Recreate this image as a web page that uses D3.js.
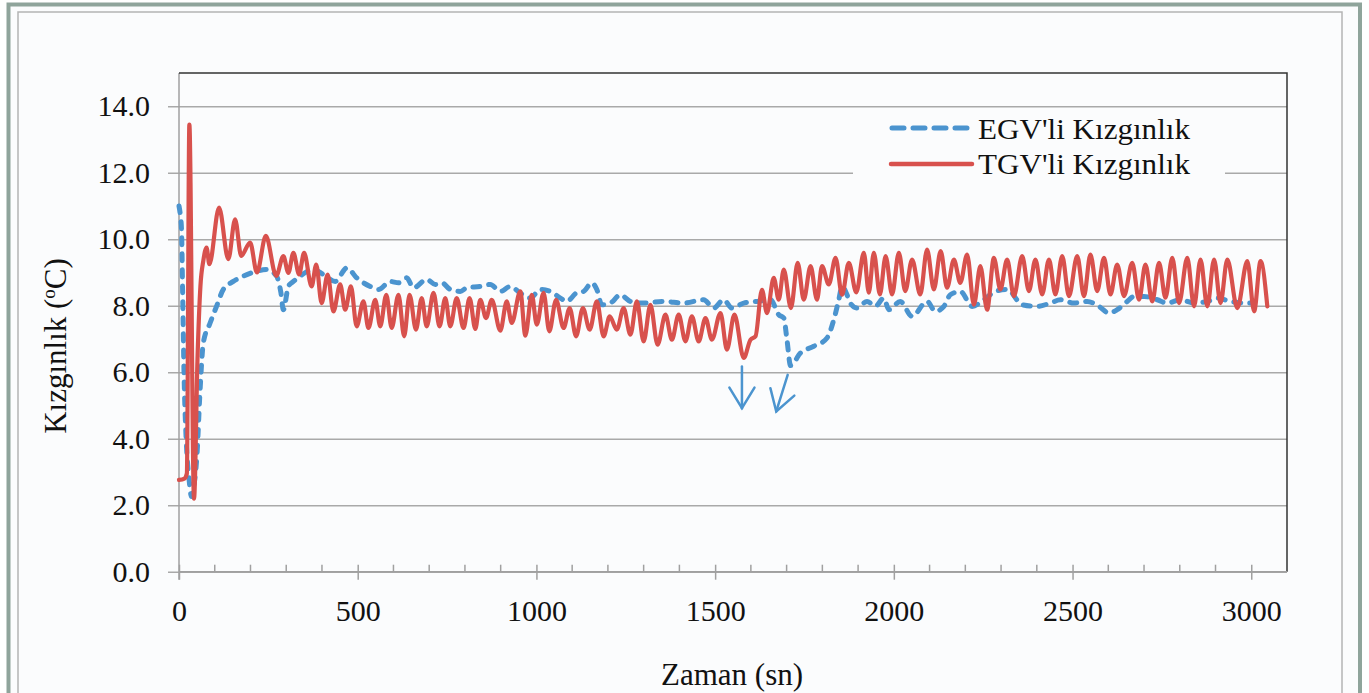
<!DOCTYPE html>
<html><head><meta charset="utf-8">
<script src="https://cdn.jsdelivr.net/npm/d3@7"></script>
<style>html,body{margin:0;padding:0;background:#fff;overflow:hidden}</style>
</head><body>
<svg id="c" width="1369" height="693"></svg>
<script>
// ---- data (time in s, superheat in °C) ----
const tgvTime = [0,15,22,29,42,52,60,68,77,85,112,138,157,174,199,218,243,272,292,306,320,336,350,371,384,399,416,432,451,465,481,497,516,530,549,563,580,595,614,630,645,663,679,693,712,729,745,759,777,796,813,829,843,859,875,899,917,931,955,969,987,1001,1020,1036,1055,1076,1093,1111,1130,1149,1169,1188,1205,1225,1244,1263,1281,1300,1319,1339,1361,1379,1398,1417,1435,1454,1473,1491,1515,1533,1554,1580,1599,1613,1631,1645,1664,1678,1692,1712,1731,1748,1767,1785,1799,1818,1837,1855,1874,1895,1916,1930,1944,1961,1977,1995,2014,2032,2051,2074,2093,2112,2131,2149,2168,2186,2205,2224,2242,2261,2280,2298,2317,2336,2359,2378,2396,2415,2434,2452,2471,2490,2513,2532,2550,2569,2588,2606,2625,2644,2667,2686,2704,2723,2742,2760,2779,2798,2821,2840,2858,2877,2896,2914,2933,2961,2989,3008,3026,3045];
const tgvValue = [2.76,2.8,2.95,13.45,2.2,6.5,8.6,9.35,9.75,9.25,10.95,9.4,10.6,9.5,9.9,9.0,10.1,8.9,9.49,8.99,9.59,8.94,9.59,8.58,9.24,8.08,8.94,7.83,8.64,7.88,8.58,7.38,8.13,7.33,8.18,7.38,8.33,7.33,8.33,7.08,8.33,7.28,8.23,7.38,8.39,7.38,8.23,7.38,8.23,7.33,8.23,7.3,8.18,7.63,8.18,7.25,8.13,7.48,8.43,7.1,8.33,7.43,8.39,7.23,8.18,7.33,7.93,7.08,7.93,7.28,8.13,7.08,7.68,7.28,7.93,7.13,8.13,6.93,8.03,6.83,7.73,6.98,7.73,6.93,7.68,6.93,7.63,6.98,7.78,6.68,7.73,6.43,6.98,7.08,8.48,7.78,8.84,8.18,9.09,7.93,9.29,8.18,9.19,8.18,9.19,8.64,9.44,8.33,9.29,8.4,9.59,8.39,9.59,8.34,9.49,8.34,9.59,8.44,9.39,8.34,9.69,8.49,9.64,8.54,9.39,8.69,9.54,8.03,9.19,7.88,9.44,8.49,9.39,8.29,9.49,8.44,9.39,8.34,9.39,8.34,9.49,8.29,9.49,8.29,9.54,8.44,9.44,8.34,9.24,8.29,9.29,8.18,9.24,8.13,9.29,8.24,9.44,8.08,9.44,7.98,9.39,7.98,9.39,8.08,9.39,7.93,9.34,7.83,9.34,7.98];

const egvTime = [0,4,7,10,14,20,28,35,42,50,59,68,87,105,124,152,180,218,246,273,285,292,306,320,340,376,404,437,470,497,535,558,591,614,637,656,693,717,735,759,787,805,843,871,899,927,955,983,1011,1039,1067,1085,1113,1132,1155,1169,1183,1207,1235,1263,1300,1356,1412,1468,1496,1524,1547,1580,1617,1655,1678,1692,1701,1711,1739,1776,1813,1832,1846,1855,1869,1878,1897,1925,1948,1972,1986,2018,2051,2093,2116,2140,2158,2186,2219,2252,2284,2317,2359,2401,2438,2466,2504,2541,2574,2602,2625,2653,2672,2700,2737,2765,2802,2840,2877,2905,2942,2980,2999];
const egvValue = [11.0,10.7,10.3,8.5,6,4,2.8,2.26,2.6,3.46,5.47,6.88,7.48,7.98,8.49,8.73,8.89,9.04,9.09,8.89,8.4,7.88,8.58,8.73,8.9,9.09,8.94,8.73,9.14,8.84,8.58,8.49,8.73,8.69,8.84,8.54,8.79,8.64,8.69,8.49,8.43,8.54,8.58,8.64,8.43,8.58,8.38,8.23,8.49,8.43,8.23,8.13,8.39,8.43,8.69,8.49,8.03,8.08,8.33,8.13,8.08,8.13,8.08,8.18,7.93,8.18,7.93,8.08,8.13,8.18,7.73,7.63,6.98,6.2,6.58,6.78,7.03,7.58,8.18,8.58,8.33,8.08,7.93,8.13,7.98,8.23,7.88,8.13,7.68,8.13,7.83,7.98,8.33,8.43,7.98,8.18,8.43,8.49,8.03,7.98,8.08,8.18,8.08,8.13,7.98,7.78,7.88,8.13,8.28,8.28,8.18,8.08,8.18,8.08,8.13,8.23,8.13,8.08,8.08];

const xTicks = [0,500,1000,1500,2000,2500,3000];
const yTicks = [0,2,4,6,8,10,12,14];
const seriesNames = ["EGV'li Kızgınlık","TGV'li Kızgınlık"];
// annotation arrows [t0,v0,t1,v1]
const arrows = [[1575,6.17,1575,4.92],[1703,5.92,1671,4.82]];

// ---- drawing ----
const svg = d3.select("#c");
const BLUE = "#4b94cf", RED = "#d8514d";
const FONT = "'Liberation Serif','Times New Roman',serif";

// frame
svg.append("rect").attr("x",0).attr("y",0).attr("width",1369).attr("height",693).attr("fill","#fff");
svg.append("rect").attr("x",8.5).attr("y",4.5).attr("width",1351.5).attr("height",700)
  .attr("fill","#fbfcfd").attr("stroke","#8fa49b").attr("stroke-width",4);
svg.append("rect").attr("x",18).attr("y",12).attr("width",1324).attr("height",700)
  .attr("fill","none").attr("stroke","#b4b4b4").attr("stroke-width",1.5);

const L=179, R=1287, T=73, B=571.7;
const x = d3.scaleLinear().domain([0,3100]).range([L,R]);
const y = d3.scaleLinear().domain([0,15]).range([B,T]);

// gridlines + y ticks
const yAxis = d3.axisLeft(y).tickValues(yTicks).tickSize(-(R-L)).tickSizeOuter(0)
  .tickFormat(d3.format(".1f")).tickPadding(0);
const gy = svg.append("g").attr("transform",`translate(${L},0)`).call(yAxis);
gy.select(".domain").remove();
gy.selectAll(".tick line").attr("stroke","#a9a9a9").attr("stroke-width",1.5).attr("x1",-11);
gy.selectAll(".tick text").attr("x",-29).attr("font-family",FONT).attr("font-size",30).attr("fill","#111");

// plot border: left gray, top/right dark
svg.append("line").attr("x1",L).attr("x2",L).attr("y1",T).attr("y2",B+8).attr("stroke","#a0a0a0").attr("stroke-width",1.5);
svg.append("path").attr("d",`M${L},${T}H${R}V${B}`).attr("fill","none").attr("stroke","#333").attr("stroke-width",1.5);

// x axis
const xAxis = d3.axisBottom(x).tickValues(xTicks).tickSize(8).tickSizeOuter(0).tickFormat(d3.format("d")).tickPadding(20);
const gx = svg.append("g").attr("transform",`translate(0,${B})`).call(xAxis);
gx.select(".domain").attr("stroke","#a0a0a0").attr("stroke-width",1.5).attr("d",`M${L},0H${R}`);
gx.selectAll(".tick line").attr("stroke","#a0a0a0").attr("stroke-width",1.5).attr("y1",-7);
gx.selectAll(".tick text").attr("font-family",FONT).attr("font-size",30).attr("fill","#111");
// minor ticks every 100
const minor = d3.range(100,3100,100).filter(v=>v%500!==0);
svg.append("g").selectAll("line").data(minor).join("line")
  .attr("x1",d=>x(d)).attr("x2",d=>x(d)).attr("y1",B-7).attr("y2",B)
  .attr("stroke","#a0a0a0").attr("stroke-width",1.5);

// legend background (hides gridline)
svg.append("rect").attr("x",853).attr("y",112).attr("width",372).attr("height",72).attr("fill","#fbfcfd");

// lines
const egv = egvTime.map((t,i)=>[t,egvValue[i]]);
const tgv = tgvTime.map((t,i)=>[t,tgvValue[i]]);
const line = d3.line().x(d=>x(d[0])).y(d=>y(d[1])).curve(d3.curveMonotoneX);
svg.append("path").datum(egv).attr("d",line).attr("fill","none").attr("stroke",BLUE)
  .attr("stroke-width",5).attr("stroke-dasharray","7,9").attr("stroke-linecap","round").attr("stroke-linejoin","round");
svg.append("path").datum(tgv).attr("d",line).attr("fill","none").attr("stroke",RED)
  .attr("stroke-width",4.2).attr("stroke-linejoin","round").attr("stroke-linecap","round");

// arrows
const ag = svg.append("g").attr("stroke",BLUE).attr("stroke-width",2.5).attr("fill","none").attr("stroke-linecap","round");
arrows.forEach(a=>{
  const x0=x(a[0]),y0=y(a[1]),x1=x(a[2]),y1=y(a[3]);
  const ang=Math.atan2(y1-y0,x1-x0), h=24, w=0.55;
  ag.append("line").attr("x1",x0).attr("y1",y0).attr("x2",x1).attr("y2",y1);
  ag.append("path").attr("d",`M${x1-h*Math.cos(ang-w)},${y1-h*Math.sin(ang-w)}L${x1},${y1}L${x1-h*Math.cos(ang+w)},${y1-h*Math.sin(ang+w)}`);
});

// legend
const lg = svg.append("g");
lg.append("line").attr("x1",892).attr("x2",970).attr("y1",128).attr("y2",128)
  .attr("stroke",BLUE).attr("stroke-width",5).attr("stroke-dasharray","12,9").attr("stroke-linecap","round");
lg.append("line").attr("x1",891).attr("x2",972).attr("y1",164).attr("y2",164)
  .attr("stroke",RED).attr("stroke-width",4.5).attr("stroke-linecap","round");
lg.selectAll("text").data(seriesNames).join("text")
  .attr("x",978).attr("y",(d,i)=>139+i*35).attr("font-family",FONT).attr("font-size",30)
  .attr("textLength",212).attr("lengthAdjust","spacingAndGlyphs").attr("fill","#111").text(d=>d);

// axis titles
svg.append("text").attr("x",732).attr("y",685).attr("text-anchor","middle")
  .attr("font-family",FONT).attr("font-size",31).attr("fill","#111").text("Zaman (sn)");
const yt = svg.append("text").attr("transform","translate(66,346) rotate(-90)").attr("text-anchor","middle")
  .attr("font-family",FONT).attr("font-size",31).attr("fill","#111");
yt.append("tspan").text("Kızgınlık (");
yt.append("tspan").attr("font-size",19).attr("dy",-11).text("o");
yt.append("tspan").attr("dy",11).text("C)");
</script>
</body></html>
